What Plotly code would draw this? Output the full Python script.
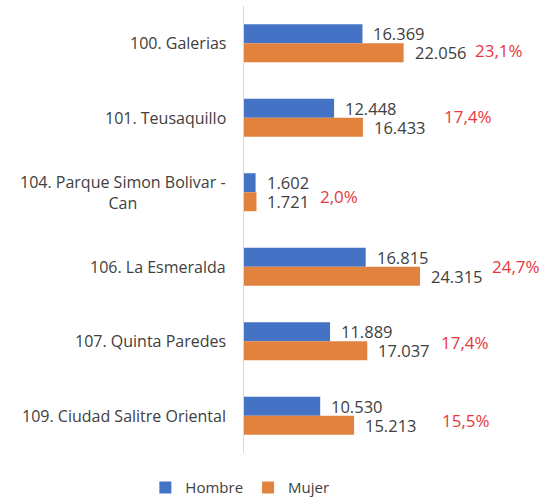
import plotly.graph_objects as go

categories = ["100. Galerias", "101. Teusaquillo", "104. Parque Simon Bolivar -<br>Can",
              "106. La Esmeralda", "107. Quinta Paredes", "109. Ciudad Salitre Oriental"]
hombre = [16369, 12448, 1602, 16815, 11889, 10530]
mujer = [22056, 16433, 1721, 24315, 17037, 15213]
pct_labels = ["23,1%", "17,4%", "2,0%", "24,7%", "17,4%", "15,5%"]

# styling offsets for percentage labels (pixels)
pct_xshift = [69, 79, 62, 70, 72, 86]
pct_yshift = [-7, 1.5, -4.5, 0, -1, -5]

BLUE = "#4472C4"
ORANGE = "#E2823F"
TXT = "#404040"
RED = "#E8383D"
FONT = "Open Sans"

def fmt(v):
    return f"{v:,}".replace(",", ".")

fig = go.Figure()
fig.add_trace(go.Bar(y=categories, x=hombre, name="Hombre", orientation="h",
                     marker=dict(color=BLUE, line=dict(width=0))))
fig.add_trace(go.Bar(y=categories, x=mujer, name="Mujer", orientation="h",
                     marker=dict(color=ORANGE, line=dict(width=0))))

ann = []
for c, h, m in zip(categories, hombre, mujer):
    ann.append(dict(x=h, y=c, xref="x", yref="y", text=fmt(h), xanchor="left", yanchor="middle",
                    xshift=9, yshift=9.5, showarrow=False,
                    font=dict(size=16.5, color=TXT, family=FONT)))
    ann.append(dict(x=m, y=c, xref="x", yref="y", text=fmt(m), xanchor="left", yanchor="middle",
                    xshift=9, yshift=-9.5, showarrow=False,
                    font=dict(size=16.5, color=TXT, family=FONT)))
for c, m, p, xs, ys in zip(categories, mujer, pct_labels, pct_xshift, pct_yshift):
    ann.append(dict(x=m, y=c, xref="x", yref="y", text=p, xanchor="left", yanchor="middle",
                    xshift=xs, yshift=ys, showarrow=False,
                    font=dict(size=17, color=RED, family=FONT)))
for c in categories:
    ann.append(dict(x=0, xref="x", y=c, yref="y", text=c, xanchor="right", yanchor="middle",
                    align="center", xshift=-16, showarrow=False,
                    font=dict(size=16, color=TXT, family=FONT)))

fig.update_layout(
    width=542, height=497,
    margin=dict(l=244, r=2, t=6, b=44, autoexpand=False),
    paper_bgcolor="white", plot_bgcolor="white",
    barmode="group", bargap=0.49, bargroupgap=0,
    showlegend=True,
    legend=dict(orientation="h", x=-0.014, xanchor="center",
                y=-0.078, yanchor="middle",
                font=dict(size=15, color=TXT, family=FONT)),
    annotations=ann,
    xaxis=dict(range=[0, 40900], showgrid=False, zeroline=False, showticklabels=False,
               ticks=""),
    yaxis=dict(autorange="reversed", showticklabels=False, ticks="",
               showline=True, linecolor="#D9D9D9", linewidth=1, showgrid=False),
)

fig.write_html("out.html", config={"displayModeBar": False},
               post_script="document.body.style.margin='0';")
